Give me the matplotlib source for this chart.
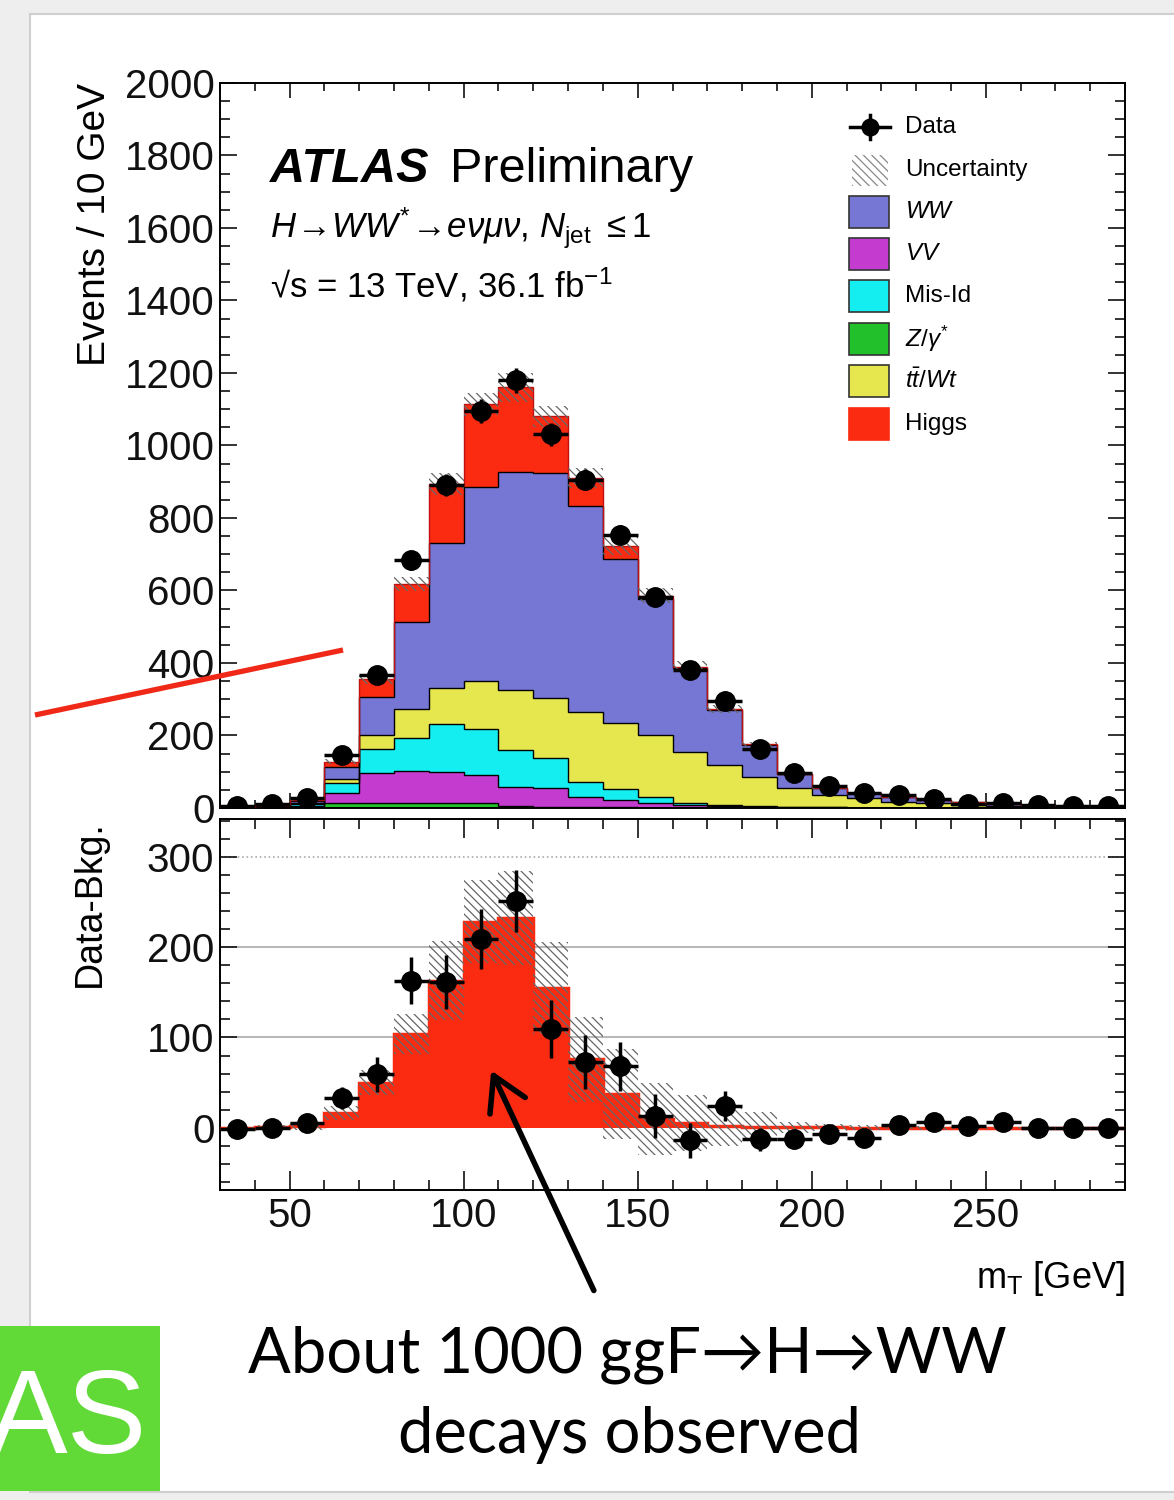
import matplotlib
matplotlib.use("Agg")
import matplotlib.pyplot as plt
import numpy as np
from matplotlib.patches import Rectangle, FancyArrowPatch
from matplotlib.lines import Line2D
from matplotlib.ticker import MultipleLocator

plt.rcParams['font.family'] = ['Liberation Sans', 'DejaVu Sans']
plt.rcParams['mathtext.fontset'] = 'custom'
plt.rcParams['mathtext.rm'] = 'Liberation Sans'
plt.rcParams['mathtext.it'] = 'Liberation Sans:italic'
plt.rcParams['mathtext.bf'] = 'Liberation Sans:bold'
plt.rcParams['hatch.color'] = '#666666'
plt.rcParams['hatch.linewidth'] = 0.9

# ---- data (m_T bins of 10 GeV, 30..290) ----
bin_edges = list(range(30, 300, 10))
zgamma = [0.5, 1, 2, 13, 15, 15, 14, 13, 6, 4, 3, 2, 1, 1, 0.5, 0.3, 0.2, 0, 0, 0, 0, 0, 0, 0, 0, 0]
vv = [0.5, 1.5, 4, 27, 81, 88, 85, 78, 51, 50, 28, 20, 13, 7, 4, 3, 2, 1.5, 1, 1, 0.5, 0.3, 0.2, 0.1, 0.1, 0.1]
misid = [0.5, 1.5, 5, 30, 66, 89, 132, 126, 103, 83, 42, 30, 17, 5, 3, 2, 1, 0.5, 0.3, 0.2, 0.1, 0.1, 0, 0, 0, 0]
ttbar = [0.5, 1, 3, 9, 39, 80, 99, 132, 166, 166, 193, 183, 170, 141, 111, 80, 51, 34, 26, 16, 12, 7, 5, 3, 2, 1.5]
ww = [1, 2, 6, 33, 104, 242, 400, 537, 602, 622, 568, 451, 375, 231, 153, 89, 40, 18, 15, 13, 10, 8, 6, 5, 4, 3.5]
higgs = [0.2, 0.5, 2, 16, 50, 104, 163, 228, 232, 155, 76, 37, 10, 5, 2, 1, 0.5, 0.3, 0.2, 0.1, 0, 0, 0, 0, 0, 0]
data = [5, 10, 27, 146, 366, 683, 891, 1096, 1180, 1031, 906, 754, 581, 381, 295, 163, 96, 62, 40, 36, 26, 12, 15, 9, 6, 5]
data_err = [2, 3, 5, 12, 19, 26, 30, 33, 34, 32, 30, 27, 24, 19, 17, 13, 10, 8, 6, 6, 5, 4, 4, 3, 2, 2]
stack_unc = [1, 2, 3, 8, 14, 20, 30, 32, 40, 30, 28, 25, 20, 15, 12, 8, 5, 4, 3, 2, 2, 1, 1, 1, 1, 1]
data_minus_bkg = [-1, 0, 5, 33, 59, 163, 161, 209, 251, 109, 73, 68, 13, -14, 24, -13, -12, -7, -11, 3, 6, 2, 6, 0, 0, 0]
bkg_unc = [1, 2, 4, 8, 14, 22, 44, 46, 52, 51, 47, 50, 40, 31, 22, 16, 6, 4, 3, 2, 2, 1, 1, 1, 1, 1]

components = [
    ("Z/gamma*", zgamma, "#22c02a"),
    ("VV", vv, "#c43ccf"),
    ("Mis-Id", misid, "#14eef0"),
    ("ttbar/Wt", ttbar, "#e6e64e"),
    ("WW", ww, "#7676d4"),
    ("Higgs", higgs, "#fb2b12"),
]

W, H = 1174, 1500
fig = plt.figure(figsize=(W / 100, H / 100), dpi=100)
fig.patch.set_facecolor("#eeeeee")


def fx(px):
    return px / W


def fy(py):
    return 1 - py / H


# slide background
fig.add_artist(Rectangle((fx(30), fy(1492)), fx(1174 - 30) + 0.01, (1492 - 14) / H,
                         transform=fig.transFigure, facecolor="white",
                         edgecolor="#cfcfcf", lw=1.5, zorder=0))

edges = np.array(bin_edges, dtype=float)
centers = 0.5 * (edges[:-1] + edges[1:])

ax1 = fig.add_axes([fx(220), fy(808), 905 / W, 725 / H])
ax2 = fig.add_axes([fx(220), fy(1190), 905 / W, (1190 - 819) / H])
for ax in (ax1, ax2):
    ax.set_facecolor("none")

# ---------- upper panel: stacked prediction ----------
base = np.zeros(len(centers))
for name, vals, col in components:
    top = base + np.array(vals, dtype=float)
    ax1.stairs(top, edges, baseline=base, fill=True, color=col, lw=0, zorder=2)
    ax1.stairs(top, edges, baseline=None, color="black" if name != "Higgs" else "#c01010",
               lw=1.0, zorder=3)
    base = top
total = base
su = np.array(stack_unc, dtype=float)
ax1.stairs(total + su, edges, baseline=total - su, fill=True, facecolor="none",
           edgecolor="#666666", lw=0, hatch="\\\\\\\\", zorder=4)
ax1.errorbar(centers, data, xerr=5, yerr=data_err, fmt="o", color="black",
             ms=14, elinewidth=2.5, capsize=0, zorder=6)

ax1.set_xlim(30, 290)
ax1.set_ylim(0, 2000)
ax1.xaxis.set_major_locator(MultipleLocator(50))
ax1.xaxis.set_minor_locator(MultipleLocator(10))
ax1.yaxis.set_major_locator(MultipleLocator(200))
ax1.yaxis.set_minor_locator(MultipleLocator(50))
ax1.tick_params(axis="x", which="both", labelbottom=False)

# ---------- lower panel: data - background ----------
hg = np.array(higgs, dtype=float)
bu = np.array(bkg_unc, dtype=float)
for yv, ls in ((100, "-"), (200, "-"), (300, ":")):
    ax2.axhline(yv, color="#aaaaaa", lw=1.2, ls=ls, zorder=1)
ax2.stairs(hg, edges, baseline=0, fill=True, color="#fb2b12", lw=0, zorder=2)
ax2.stairs(hg, edges, baseline=None, color="#fb2b12", lw=2.5, zorder=3)
ax2.stairs(hg + bu, edges, baseline=hg - bu, fill=True, facecolor="none",
           edgecolor="#666666", lw=0, hatch="\\\\\\\\", zorder=4)
ax2.errorbar(centers, data_minus_bkg, xerr=5, yerr=data_err, fmt="o", color="black",
             ms=14, elinewidth=2.5, capsize=0, zorder=6)
ax2.set_xlim(30, 290)
ax2.set_ylim(-69, 342)
ax2.xaxis.set_major_locator(MultipleLocator(50))
ax2.xaxis.set_minor_locator(MultipleLocator(10))
ax2.yaxis.set_major_locator(MultipleLocator(100))
ax2.yaxis.set_minor_locator(MultipleLocator(20))

for ax, xl in ((ax1, (11, 6)), (ax2, (14, 7))):
    for s in ax.spines.values():
        s.set_linewidth(1.4)
    ax.tick_params(which="both", direction="in", top=True, right=True, width=1.2,
                   labelsize=29, colors="#111111")
    ax.tick_params(axis="x", which="major", length=xl[0], pad=5)
    ax.tick_params(axis="x", which="minor", length=xl[1])
    ax.tick_params(axis="y", which="major", length=12, pad=4)
    ax.tick_params(axis="y", which="minor", length=7)

# axis titles
fig.text(fx(95), fy(83), "Events / 10 GeV", rotation=90, ha="center", va="top", fontsize=28)
fig.text(fx(90), fy(820), "Data-Bkg.", rotation=90, ha="center", va="top", fontsize=27)
fig.text(fx(1125), fy(1278), r"m$_{\mathrm{T}}$ [GeV]", ha="right", va="center", fontsize=26)

# ATLAS labels
fig.text(fx(270), fy(182), "ATLAS", fontsize=35, fontweight="bold", fontstyle="italic",
         va="baseline")
fig.text(fx(450), fy(182), "Preliminary", fontsize=35, va="baseline")
fig.text(fx(270), fy(228),
         r"$H\!\rightarrow\!WW^{*}\!\rightarrow\!e\nu\mu\nu$, $N_{\mathrm{jet}}$ $\leq 1$",
         fontsize=25, va="center")
fig.text(fx(270), fy(285), "\u221As = 13 TeV, 36.1 fb$^{-1}$", fontsize=25, va="center")

# legend (drawn by hand, ROOT style)
fig.add_artist(Line2D([fx(850), fx(890)], [fy(127), fy(127)], color="black", lw=2.5,
                      transform=fig.transFigure))
fig.add_artist(Line2D([fx(870), fx(870)], [fy(115), fy(139)], color="black", lw=2.5,
                      transform=fig.transFigure))
fig.add_artist(Line2D([fx(870)], [fy(127)], marker="o", ms=12, color="black",
                      transform=fig.transFigure))
fig.text(fx(905), fy(127), "Data", fontsize=17.5, va="center")
fig.add_artist(Rectangle((fx(852), fy(186)), 36 / W, 31 / H, transform=fig.transFigure,
                         facecolor="none", edgecolor="#888888", lw=0, hatch="\\\\\\\\"))
fig.text(fx(905), fy(170), "Uncertainty", fontsize=17.5, va="center")
legend_rows = [
    ("WW", r"$WW$", 212),
    ("VV", r"$VV$", 254),
    ("Mis-Id", "Mis-Id", 296),
    ("Z/gamma*", r"$Z/\gamma^{*}$", 339),
    ("ttbar/Wt", r"$t\bar{t}/Wt$", 381),
    ("Higgs", "Higgs", 424),
]
colmap = {n: c for n, _, c in components}
for key, lab, yc in legend_rows:
    fig.add_artist(Rectangle((fx(849), fy(yc + 16)), 40 / W, 32 / H, transform=fig.transFigure,
                             facecolor=colmap[key],
                             edgecolor="#333333" if key != "Higgs" else colmap[key], lw=1.2))
    fig.text(fx(905), fy(yc), lab, fontsize=17.5, va="center")

# slide annotations
fig.add_artist(Line2D([fx(35), fx(343)], [fy(715), fy(650)], color="#f02818", lw=3.8,
                      transform=fig.transFigure, solid_capstyle="butt"))
fig.add_artist(FancyArrowPatch((fx(595), fy(1293)), (fx(490), fy(1068)),
                               transform=fig.transFigure,
                               arrowstyle="->,head_length=0.6,head_width=0.35",
                               mutation_scale=40, color="black", lw=4))
fig.text(fx(627), fy(1355), "About 1000 ggF\u2192H\u2192WW", fontsize=45.5, ha="center",
         va="center", family=["Lato", "DejaVu Sans"])
fig.text(fx(629), fy(1435), "decays observed", fontsize=45.5, ha="center", va="center",
         family=["Lato", "DejaVu Sans"])

fig.add_artist(Rectangle((0, fy(1491)), fx(160), (1491 - 1326) / H, transform=fig.transFigure,
                         facecolor="#61da38", edgecolor="none"))
fig.text(fx(147), fy(1453), "AS", fontsize=86, color="white", ha="right", va="baseline")

fig.savefig("out.png", dpi=100, facecolor=fig.get_facecolor())
